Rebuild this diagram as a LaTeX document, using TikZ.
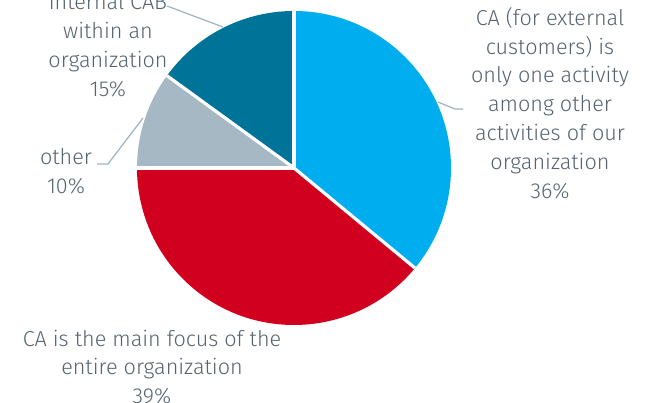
\documentclass[tikz,border=0pt]{standalone}
\usepackage{fontspec}
\setmainfont{Fira Sans Light}
\begin{document}
\definecolor{cblue}{HTML}{00AEEF}
\definecolor{cred}{HTML}{D0001E}
\definecolor{cgrey}{HTML}{A6B8C3}
\definecolor{cteal}{HTML}{007399}
\definecolor{ctext}{HTML}{56646E}
\definecolor{cleader}{HTML}{A0B2BD}
\begin{tikzpicture}[x=1pt,y=1pt,
  slice/.style={draw=white,line width=3.2pt,line join=round},
  lbl/.style={align=center,text=ctext,font=\fontsize{21.6}{28.8}\selectfont,inner sep=0pt},
  leader/.style={draw=cleader,line width=1.2pt}]
\useasboundingbox (0,0) rectangle (647,403);
\coordinate (c) at (294,235);
\def\R{157}
\fill[cblue]  (c) -- ++(90:\R) arc[start angle=90,end angle=-39.6,radius=\R] -- cycle;
\fill[cred]   (c) -- ++(-39.6:\R) arc[start angle=-39.6,end angle=-180,radius=\R] -- cycle;
\fill[cgrey]  (c) -- ++(180:\R) arc[start angle=180,end angle=144,radius=\R] -- cycle;
\fill[cteal]  (c) -- ++(144:\R) arc[start angle=144,end angle=90,radius=\R] -- cycle;
\draw[slice] (c) -- ++(90:\R);
\draw[slice] (c) -- ++(-39.6:\R);
\draw[slice] (c) -- ++(180:\R);
\draw[slice] (c) -- ++(144:\R);
% labels
\node[lbl] (lteal) at (108,358) {internal CAB\\within an\\organization\\15\%};
\node[lbl] (lgrey) at (66,232) {other\\10\%};
\node[lbl] (lblue) at (550,300) {CA (for external\\customers) is\\only one activity\\among other\\activities of our\\organization\\36\%};
\node[lbl] (lred) at (152,36) {CA is the main focus of the\\entire organization\\39\%};
% leaders
\coordinate (pteal) at (223,376);
\coordinate (pgrey) at (143,285);
\coordinate (pblue) at (438,301);
\coordinate (ateal) at (167,397);
\coordinate (agrey) at (97,239);
\coordinate (ablue) at (463,294);
\draw[leader] (ateal) -- (pteal);
\draw[leader] (agrey) -- ++(11,0) -- (pgrey);
\draw[leader] (ablue) -- ++(-8,0) -- (pblue);
\end{tikzpicture}
\end{document}
